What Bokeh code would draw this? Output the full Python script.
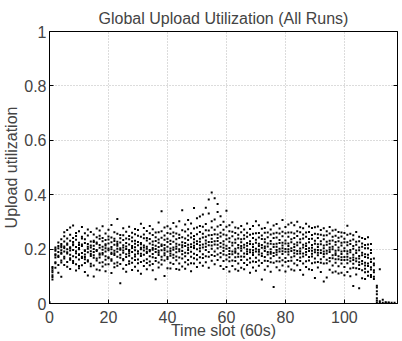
from bokeh.plotting import figure
from bokeh.embed import file_html
from bokeh.resources import INLINE
from bokeh.models import (FixedTicker, CustomJSTickFormatter, LinearAxis, Range1d,
                          ColumnDataSource)

# Title / labels
title_text = "Global Upload Utilization (All Runs)"
x_label = "Time slot (60s)"
y_label = "Upload utilization"
x_ticks = [0, 20, 40, 60, 80, 100]
y_ticks = [0, 0.2, 0.4, 0.6, 0.8, 1]

# Upload utilization per time slot (all runs), in thousandths
util_slots_000_019 = [
    [5],
    [88, 97, 104, 115, 121, 129, 134],
    [131, 148, 152, 169, 177, 181, 194, 206, 199],
    [113, 142, 171, 176, 189, 203, 211, 224],
    [98, 151, 158, 183, 187, 196, 212, 219, 236, 207],
    [142, 165, 172, 191, 204, 210, 228, 247, 262],
    [135, 153, 184, 188, 199, 216, 221, 239, 270],
    [127, 161, 166, 179, 203, 207, 231, 253, 279, 195],
    [149, 156, 174, 197, 214, 218, 226, 241, 287],
    [121, 144, 170, 185, 192, 208, 234, 248, 259],
    [130, 138, 162, 178, 181, 199, 215, 223, 266, 204],
    [141, 167, 172, 186, 211, 217, 239, 245, 281],
    [116, 149, 163, 180, 193, 196, 222, 236, 258, 171],
    [103, 154, 159, 188, 201, 209, 219, 250, 272],
    [137, 146, 175, 182, 206, 213, 228, 263, 192],
    [99, 140, 168, 177, 189, 200, 226, 231, 254, 212],
    [125, 158, 165, 193, 197, 220, 224, 244, 276],
    [122, 150, 169, 184, 205, 215, 238, 249, 268, 179],
    [136, 152, 180, 186, 198, 209, 229, 241, 284],
    [119, 143, 161, 174, 191, 213, 218, 233, 257, 203],
]
util_slots_020_039 = [
    [144, 166, 170, 196, 202, 221, 235, 246, 271],
    [112, 157, 163, 182, 187, 208, 225, 243, 289, 199],
    [133, 147, 178, 185, 194, 216, 230, 238, 262],
    [139, 151, 172, 190, 212, 219, 227, 256, 311, 201],
    [74, 145, 168, 179, 198, 203, 224, 240, 252],
    [128, 159, 164, 187, 195, 214, 233, 251, 277, 206],
    [117, 142, 171, 181, 200, 210, 222, 239, 264],
    [146, 155, 176, 193, 197, 217, 236, 248, 282, 185],
    [123, 150, 166, 189, 204, 211, 229, 243, 260],
    [135, 160, 173, 180, 207, 220, 231, 255, 274, 196],
    [120, 148, 162, 184, 192, 214, 226, 249, 270],
    [109, 153, 175, 183, 199, 218, 222, 245, 293, 205],
    [138, 157, 179, 195, 206, 213, 240, 254, 278],
    [126, 149, 163, 186, 201, 209, 232, 241, 267, 190],
    [141, 154, 174, 192, 197, 221, 237, 258, 285],
    [122, 145, 170, 182, 204, 216, 228, 252, 273, 198],
    [89, 156, 167, 189, 200, 212, 230, 244, 261],
    [132, 151, 178, 187, 208, 223, 235, 262, 298, 194],
    [143, 161, 172, 196, 211, 217, 242, 266, 339],
    [101, 158, 177, 185, 203, 215, 234, 250, 279, 196],
]
util_slots_040_059 = [
    [130, 164, 171, 191, 209, 226, 238, 259, 284],
    [129, 150, 176, 184, 202, 219, 231, 256, 275, 193],
    [145, 168, 179, 198, 206, 227, 247, 261, 296],
    [127, 159, 173, 188, 210, 220, 236, 257, 283, 201],
    [124, 147, 169, 192, 199, 216, 241, 253, 302],
    [136, 165, 181, 193, 214, 225, 244, 269, 343, 207],
    [128, 152, 174, 187, 211, 222, 239, 265, 290],
    [143, 160, 185, 197, 205, 233, 250, 273, 307, 216],
    [119, 148, 172, 190, 208, 218, 243, 258, 294],
    [147, 166, 183, 204, 212, 236, 248, 276, 351, 224],
    [134, 162, 178, 199, 219, 229, 255, 279, 313],
    [150, 170, 192, 203, 227, 238, 263, 285, 320, 214],
    [139, 167, 181, 206, 217, 243, 256, 282, 327],
    [152, 174, 197, 209, 232, 245, 269, 292, 352, 221],
    [131, 172, 189, 214, 226, 251, 268, 331, 382],
    [157, 178, 201, 213, 238, 252, 279, 302, 408, 226],
    [144, 175, 191, 217, 229, 255, 271, 309, 387],
    [160, 180, 203, 216, 241, 254, 283, 336, 366, 230],
    [138, 170, 186, 209, 222, 246, 260, 289, 321],
    [127, 156, 180, 193, 217, 229, 254, 271, 301, 205],
]
util_slots_060_079 = [
    [134, 162, 177, 201, 212, 236, 251, 282, 341],
    [118, 155, 170, 193, 204, 227, 240, 266, 288, 182],
    [138, 158, 181, 191, 213, 223, 247, 264, 299],
    [126, 156, 170, 192, 201, 223, 235, 259, 279, 187],
    [120, 147, 172, 183, 205, 215, 239, 253, 277],
    [131, 160, 173, 194, 203, 225, 236, 262, 285, 211],
    [126, 149, 172, 184, 206, 216, 238, 251, 272],
    [142, 161, 182, 191, 212, 222, 245, 260, 294, 199],
    [113, 151, 166, 188, 198, 219, 229, 253, 274],
    [132, 154, 178, 187, 208, 218, 241, 256, 285, 196],
    [120, 153, 168, 191, 201, 223, 234, 258, 302],
    [139, 158, 180, 190, 211, 220, 243, 259, 288, 198],
    [88, 149, 175, 184, 205, 215, 237, 250, 275],
    [124, 157, 171, 193, 203, 225, 236, 260, 278, 210],
    [137, 156, 180, 189, 210, 221, 244, 261, 298],
    [117, 152, 166, 189, 199, 220, 230, 254, 272, 183],
    [61, 150, 175, 186, 208, 218, 241, 257, 287],
    [133, 155, 179, 188, 209, 220, 243, 260, 292, 197],
    [122, 154, 168, 191, 201, 222, 233, 257, 276],
    [140, 159, 182, 192, 213, 223, 247, 264, 307, 203],
]
util_slots_080_099 = [
    [118, 153, 167, 190, 200, 221, 232, 258, 281],
    [136, 156, 180, 190, 211, 221, 245, 261, 290, 199],
    [125, 157, 170, 193, 203, 225, 236, 261, 297],
    [121, 147, 174, 185, 208, 218, 241, 257, 288, 196],
    [141, 160, 183, 193, 214, 224, 248, 266, 301],
    [123, 156, 169, 192, 202, 224, 236, 262, 280, 184],
    [106, 147, 173, 184, 206, 216, 239, 254, 277],
    [134, 155, 179, 189, 211, 221, 245, 261, 293, 200],
    [126, 158, 171, 193, 203, 225, 237, 263, 283],
    [123, 148, 173, 183, 205, 215, 238, 252, 278, 194],
    [94, 151, 165, 188, 198, 220, 231, 256, 280],
    [132, 153, 177, 187, 208, 218, 241, 255, 283, 197],
    [116, 150, 163, 186, 196, 218, 229, 253, 270],
    [81, 147, 172, 182, 203, 213, 236, 250, 277, 191],
    [96, 148, 161, 184, 194, 216, 227, 251, 266],
    [124, 155, 167, 189, 198, 220, 231, 257, 281, 206],
    [114, 140, 166, 177, 199, 209, 232, 245, 268],
    [118, 150, 163, 185, 194, 216, 226, 249, 271, 178],
    [110, 137, 163, 174, 196, 206, 229, 242, 263],
    [113, 147, 160, 182, 191, 213, 223, 246, 261, 170],
]
util_slots_100_117 = [
    [104, 134, 160, 171, 193, 203, 225, 238, 259],
    [116, 148, 161, 183, 192, 214, 225, 253, 286, 172],
    [100, 129, 155, 166, 188, 197, 219, 231, 256],
    [64, 131, 146, 169, 179, 201, 211, 235, 251, 160],
    [107, 130, 155, 165, 186, 195, 216, 227, 263],
    [56, 127, 142, 165, 175, 196, 206, 229, 245, 152],
    [93, 122, 146, 156, 177, 187, 209, 221, 241],
    [90, 115, 140, 150, 171, 181, 203, 215, 237, 128],
    [102, 117, 138, 147, 168, 179, 203, 217, 244],
    [97, 105, 125, 133, 153, 163, 186, 197, 219],
    [90, 98, 115, 122, 141, 147, 165],
    [4, 11, 19, 34, 45, 59, 65],
    [3, 8, 126],
    [3, 14],
    [3, 5],
    [3, 4],
    [3],
    [3],
]

all_slots = (util_slots_000_019 + util_slots_020_039 + util_slots_040_059
             + util_slots_060_079 + util_slots_080_099 + util_slots_100_117)
xs, ys = [], []
for slot, vals in enumerate(all_slots):
    for v in vals:
        xs.append(slot)
        ys.append(v / 1000.0)
src = ColumnDataSource(dict(x=xs, y=ys))

FONT = "Liberation Sans"
X0, X1 = 0, 118

p = figure(width=402, height=341, output_backend="svg", toolbar_location=None,
           x_range=Range1d(X0, X1), y_range=Range1d(0, 1),
           min_border_left=48, min_border_right=5, min_border_top=31, min_border_bottom=37)

p.title.text = title_text
p.title.align = "center"
p.title.text_font = FONT
p.title.text_font_size = "16px"
p.title.text_font_style = "normal"
p.title.standoff = 10
p.title.offset = -2

p.scatter("x", "y", source=src, marker="square", size=2, fill_color="black",
          line_color=None)

p.xaxis.ticker = FixedTicker(ticks=x_ticks)
p.yaxis.ticker = FixedTicker(ticks=y_ticks)
p.yaxis.formatter = CustomJSTickFormatter(code="return tick.toString();")
for ax in (p.xaxis[0], p.yaxis[0]):
    ax.major_tick_in = 4
    ax.major_tick_out = 0
    ax.minor_tick_line_color = None
    ax.major_label_text_font = FONT
    ax.major_label_text_font_size = "16px"
    ax.major_label_text_line_height = 1.0
    ax.axis_label_text_font = FONT
    ax.axis_label_text_font_size = "16px"
    ax.axis_label_text_font_style = "normal"
    ax.axis_label_text_line_height = 1.0
    ax.axis_line_color = "black"
    ax.major_tick_line_color = "black"
p.xaxis.axis_label = x_label
p.yaxis.axis_label = y_label
p.xaxis.major_label_standoff = 7
p.xaxis.axis_label_standoff = -4
p.yaxis.major_label_standoff = 3
p.yaxis.axis_label_standoff = 1

ax_r = LinearAxis(ticker=FixedTicker(ticks=y_ticks),
                  formatter=CustomJSTickFormatter(code="return '';"),
                  major_label_standoff=0, major_tick_in=4, major_tick_out=0,
                  minor_tick_line_color=None, axis_line_color="black",
                  major_tick_line_color="black")
p.add_layout(ax_r, "right")

p.xgrid.grid_line_color = "#b8b8b8"
p.ygrid.grid_line_color = "#b8b8b8"
p.xgrid.grid_line_dash = "1 2"
p.ygrid.grid_line_dash = "1 2"
p.outline_line_color = "black"
p.background_fill_color = "white"
p.border_fill_color = "white"

open("out.html", "w").write(file_html(p, INLINE))
